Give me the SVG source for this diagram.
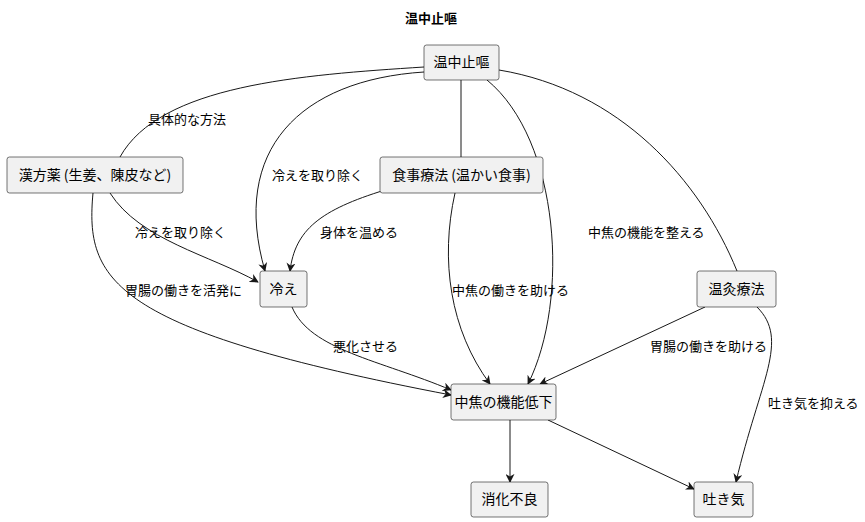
<svg xmlns="http://www.w3.org/2000/svg" width="865" height="522" viewBox="0 0 865 522">
<defs>
<marker id="ar" viewBox="0 0 10 10" refX="9" refY="5" markerWidth="9" markerHeight="9" orient="auto" markerUnits="userSpaceOnUse"><path d="M0,0 L10,5 L0,10 L3,5 z" fill="#181818"/></marker>
<style>
text{font-family:"Noto Sans CJK JP","Noto Sans",sans-serif;font-size:13px;fill:#000}
.n rect{fill:#f1f1f1;stroke:#181818;stroke-width:0.6}
.n text{text-anchor:middle;font-size:14px}
#edges path{fill:none;stroke:#181818;stroke-width:1}
.a{marker-end:url(#ar)}
</style>
</defs>
<rect width="865" height="522" fill="#fff"/>
<text x="431" y="23" text-anchor="middle" font-weight="bold">温中止嘔</text>
<g id="edges">
<path d="M424,67 C300,75 160,85 120,157"/>
<path d="M461,80 L461,157"/>
<path d="M499,70 C620,90 700,180 737,271"/>
<path class="a" d="M424,72 C300,80 230,150 265,271"/>
<path class="a" d="M487,80 C560,140 570,300 528,384"/>
<path class="a" d="M110,193 C140,240 210,255 258,282"/>
<path class="a" d="M93,193 C85,280 110,330 451,395"/>
<path class="a" d="M385,190 C320,210 295,230 290,271"/>
<path class="a" d="M455,193 C440,260 450,330 490,384"/>
<path class="a" d="M292,307 C310,350 380,360 451,390"/>
<path class="a" d="M705,307 L540,384"/>
<path class="a" d="M757,307 C790,340 760,380 736,482"/>
<path class="a" d="M510,420 L510,482"/>
<path class="a" d="M548,420 L694,489"/>
</g>
<g id="labels">
<text x="148" y="124">具体的な方法</text>
<text x="272" y="180">冷えを取り除く</text>
<text x="588" y="237">中焦の機能を整える</text>
<text x="135" y="237">冷えを取り除く</text>
<text x="320" y="237">身体を温める</text>
<text x="125" y="295">胃腸の働きを活発に</text>
<text x="452" y="295">中焦の働きを助ける</text>
<text x="333" y="351">悪化させる</text>
<text x="650" y="351">胃腸の働きを助ける</text>
<text x="768" y="408">吐き気を抑える</text>
</g>
<g id="n1" class="n"><rect x="424" y="45" width="75" height="35" rx="2.5"/><text x="461.5" y="67">温中止嘔</text></g>
<g id="n2" class="n"><rect x="7" y="157" width="176" height="36" rx="2.5"/><text x="95" y="180">漢方薬 (生姜、陳皮など)</text></g>
<g id="n3" class="n"><rect x="380" y="157" width="163" height="36" rx="2.5"/><text x="461.5" y="180">食事療法 (温かい食事)</text></g>
<g id="n4" class="n"><rect x="260" y="271" width="47" height="36" rx="2.5"/><text x="283.5" y="294">冷え</text></g>
<g id="n5" class="n"><rect x="697" y="271" width="79" height="36" rx="2.5"/><text x="736.5" y="294">温灸療法</text></g>
<g id="n6" class="n"><rect x="451" y="384" width="105" height="36" rx="2.5"/><text x="503.5" y="407">中焦の機能低下</text></g>
<g id="n7" class="n"><rect x="471" y="482" width="77" height="35" rx="2.5"/><text x="509.5" y="504">消化不良</text></g>
<g id="n8" class="n"><rect x="694" y="482" width="59" height="35" rx="2.5"/><text x="723.5" y="504">吐き気</text></g>
</svg>
